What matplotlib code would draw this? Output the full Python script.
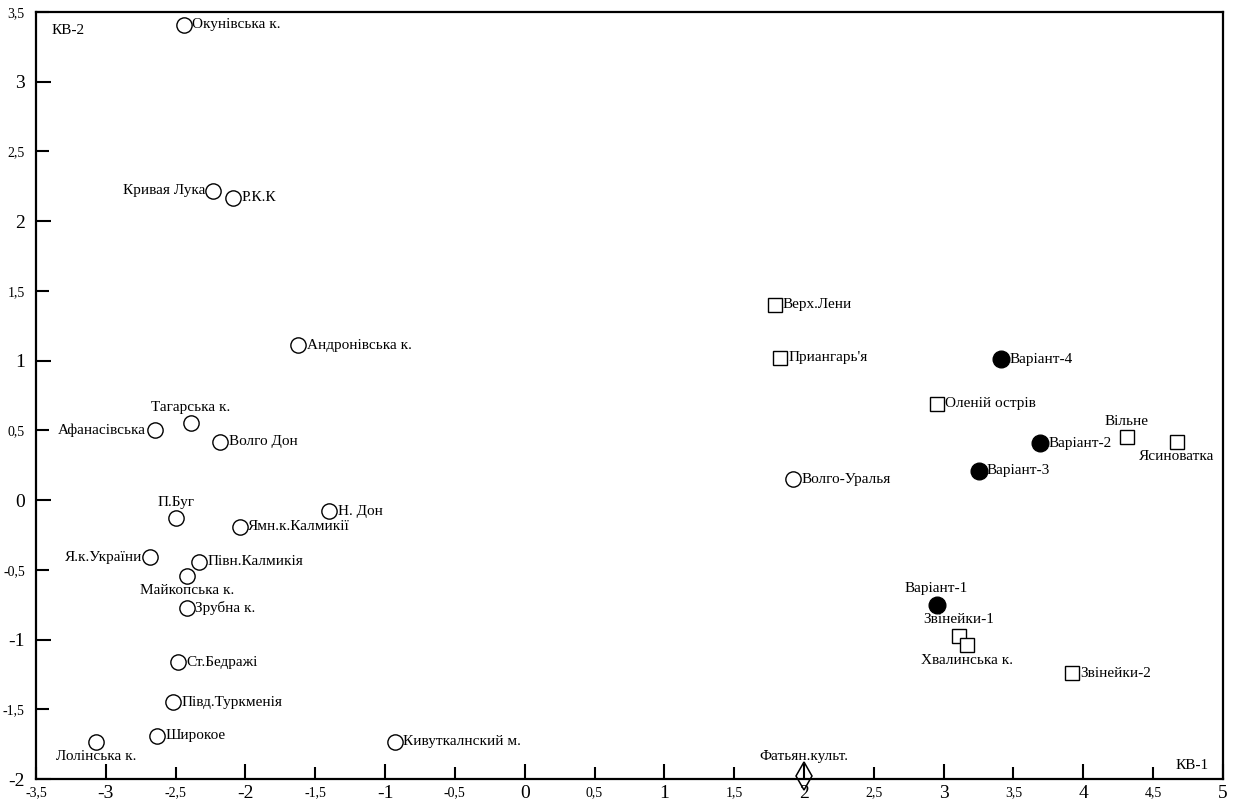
import matplotlib
matplotlib.use("Agg")
import matplotlib.pyplot as plt
from matplotlib.ticker import FixedLocator, FuncFormatter

plt.rcParams['font.family'] = ['Liberation Serif', 'DejaVu Serif']

# ---- data ----
circle_names = ["Окунівська к.", "Кривая Лука", "Р.К.К", "Андронівська к.", "Тагарська к.",
                "Афанасівська", "Волго Дон", "П.Буг", "Ямн.к.Калмикії", "Н. Дон",
                "Я.к.України", "Півн.Калмикія", "Майкопська к.", "Зрубна к.", "Ст.Бедражі",
                "Півд.Туркменія", "Широкое", "Лолінська к.", "Кивуткалнский м.", "Волго-Уралья"]
circle_x = [-2.44, -2.23, -2.09, -1.62, -2.39, -2.65, -2.18, -2.50, -2.04, -1.40,
            -2.68, -2.33, -2.42, -2.42, -2.48, -2.52, -2.63, -3.07, -0.93, 1.92]
circle_y = [3.41, 2.22, 2.17, 1.11, 0.55, 0.50, 0.42, -0.13, -0.19, -0.08,
            -0.41, -0.44, -0.54, -0.77, -1.16, -1.45, -1.69, -1.73, -1.73, 0.15]

square_names = ["Верх.Лени", "Приангарь'я", "Оленій острів", "Вільне", "Ясиноватка",
                "Звінейки-1", "Хвалинська к.", "Звінейки-2"]
square_x = [1.79, 1.83, 2.95, 4.31, 4.67, 3.11, 3.17, 3.92]
square_y = [1.40, 1.02, 0.69, 0.45, 0.42, -0.97, -1.04, -1.24]

variant_names = ["Варіант-4", "Варіант-2", "Варіант-3", "Варіант-1"]
variant_x = [3.41, 3.69, 3.25, 2.95]
variant_y = [1.01, 0.41, 0.21, -0.75]

diamond_names = ["Фатьян.культ."]
diamond_x = [2.00]
diamond_y = [-1.98]

x_major = [-3, -2, -1, 0, 1, 2, 3, 4, 5]
x_minor = [-3.5, -2.5, -1.5, -0.5, 0.5, 1.5, 2.5, 3.5, 4.5]
y_major = [-2, -1, 0, 1, 2, 3]
y_minor = [-1.5, -0.5, 0.5, 1.5, 2.5, 3.5]

# label placement (style)
placement = {
    "Кривая Лука": "left", "Афанасівська": "left", "Я.к.України": "left",
    "Тагарська к.": "above", "П.Буг": "above", "Вільне": "above",
    "Варіант-1": "above", "Звінейки-1": "above", "Фатьян.культ.": "above",
    "Майкопська к.": "below", "Лолінська к.": "below", "Ясиноватка": "below",
    "Хвалинська к.": "below",
}

fig = plt.figure(figsize=(12.39, 8.0), dpi=100)
ax = fig.add_axes([0.029, 0.026, 0.958, 0.959])
ax.set_xlim(-3.5, 5)
ax.set_ylim(-2, 3.5)

ax.plot(circle_x, circle_y, linestyle='none', marker='o', markersize=11,
        markerfacecolor='white', markeredgecolor='black', markeredgewidth=1.0, zorder=3)
ax.plot(square_x, square_y, linestyle='none', marker='s', markersize=9.5,
        markerfacecolor='white', markeredgecolor='black', markeredgewidth=1.0, zorder=3)
ax.plot(variant_x, variant_y, linestyle='none', marker='o', markersize=12,
        markerfacecolor='black', markeredgecolor='black', zorder=3)
ax.plot(diamond_x, diamond_y, linestyle='none', marker='d', markersize=14,
        markerfacecolor='none', markeredgecolor='black', markeredgewidth=1.1,
        zorder=3, clip_on=False)

fs = 11
def label(names, xs, ys):
    for n, x, y in zip(names, xs, ys):
        p = placement.get(n, "right")
        off = 10 if n in diamond_names else 7
        if p == "right":
            ax.annotate(n, (x, y), xytext=(6, 0), textcoords='offset points',
                        ha='left', va='center', fontsize=fs)
        elif p == "left":
            ax.annotate(n, (x, y), xytext=(-6, 0), textcoords='offset points',
                        ha='right', va='center', fontsize=fs)
        elif p == "above":
            ax.annotate(n, (x, y), xytext=(0, off), textcoords='offset points',
                        ha='center', va='bottom', fontsize=fs)
        else:
            ax.annotate(n, (x, y), xytext=(0, -6), textcoords='offset points',
                        ha='center', va='top', fontsize=fs)

label(circle_names, circle_x, circle_y)
label(square_names, square_x, square_y)
label(variant_names, variant_x, variant_y)
label(diamond_names, diamond_x, diamond_y)

ax.text(0.0135, 0.984, "КВ-2", transform=ax.transAxes, ha='left', va='top', fontsize=11)
ax.text(0.988, 0.01, "КВ-1", transform=ax.transAxes, ha='right', va='bottom', fontsize=11)

fmt = FuncFormatter(lambda v, pos: ('%g' % v).replace('.', ','))
ax.xaxis.set_major_locator(FixedLocator(x_major))
ax.xaxis.set_minor_locator(FixedLocator(x_minor))
ax.yaxis.set_major_locator(FixedLocator(y_major))
ax.yaxis.set_minor_locator(FixedLocator(y_minor))
for axis in (ax.xaxis, ax.yaxis):
    axis.set_major_formatter(fmt)
    axis.set_minor_formatter(fmt)

ax.tick_params(which='major', direction='in', length=11, width=1.5, labelsize=14, pad=4)
ax.tick_params(which='minor', direction='in', length=9, width=1.5, labelsize=10, pad=5)
ax.tick_params(axis='y', which='both', pad=8)

for s in ax.spines.values():
    s.set_linewidth(1.6)

fig.savefig("out.png", dpi=100)
